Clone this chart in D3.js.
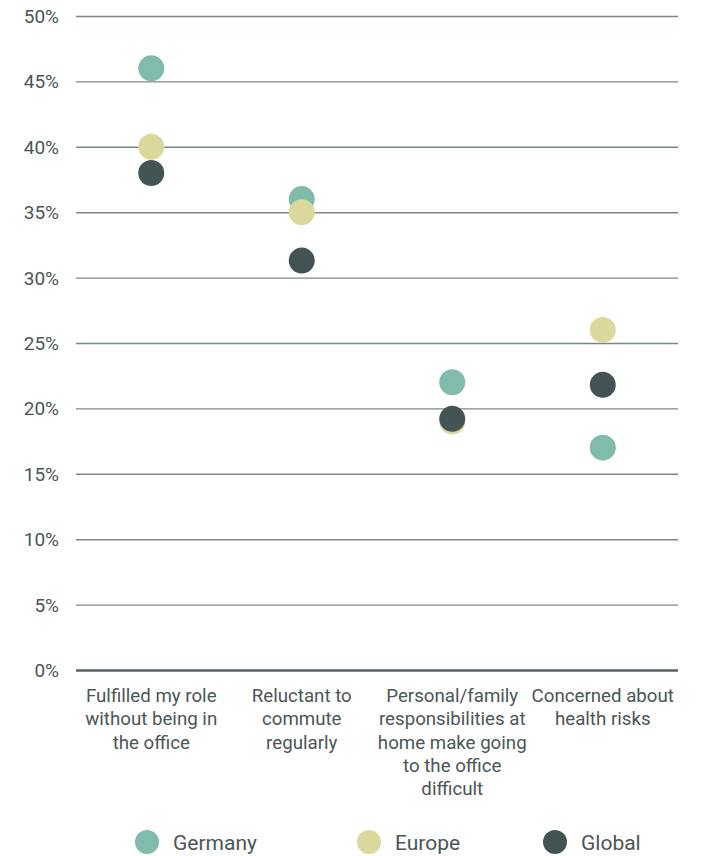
<!DOCTYPE html>
<html>
<head>
<meta charset="utf-8">
<script src="https://cdn.jsdelivr.net/npm/d3@7"></script>
<style>
  html, body { margin: 0; padding: 0; background: #ffffff; }
  svg { display: block; }
  text { font-family: Roboto, "Noto Sans", sans-serif; fill: #4b5656; }
</style>
</head>
<body>
<div id="chart"></div>
<script>
// Reasons for not returning to the office, share of respondents
const categories = [
  ["Fulfilled my role", "without being in", "the office"],
  ["Reluctant to", "commute", "regularly"],
  ["Personal/family", "responsibilities at", "home make going", "to the office", "difficult"],
  ["Concerned about", "health risks"]
];
const seriesNames = ["Germany", "Europe", "Global"];
const germany = [46, 36, 22, 17];
const europe = [40, 35, 19, 26];
const global = [38, 31.3, 19.2, 21.8];
const yTicks = [0, 5, 10, 15, 20, 25, 30, 35, 40, 45, 50];
const colors = ["#80bbac", "#dbd89c", "#445454"];

const width = 705, height = 856;
const margin = { top: 16, right: 27, bottom: 186, left: 76 };

const svg = d3.select("#chart").append("svg")
  .attr("width", width)
  .attr("height", height);

const x = d3.scaleBand()
  .domain(d3.range(categories.length))
  .range([margin.left, width - margin.right]);

const y = d3.scaleLinear()
  .domain([0, 50])
  .range([height - margin.bottom, margin.top]);

// Horizontal gridlines and percentage labels
const yAxis = d3.axisLeft(y)
  .tickValues(yTicks)
  .tickSize(-(width - margin.left - margin.right))
  .tickPadding(17)
  .tickFormat(d => d + "%");

const gy = svg.append("g")
  .attr("transform", `translate(${margin.left},0)`)
  .call(yAxis);
gy.select(".domain").remove();
gy.selectAll(".tick line")
  .attr("stroke", d => d === 0 ? "#58625f" : "#7c8787")
  .attr("stroke-width", d => d === 0 ? 2.6 : 1.4);
gy.selectAll(".tick text")
  .attr("font-size", 19)
  .attr("fill", "#4b5656")
  .attr("dy", "0.34em");

// Category labels below the baseline
const xAxis = d3.axisBottom(x).tickSize(0).tickFormat("");
const gx = svg.append("g")
  .attr("transform", `translate(0,${height - margin.bottom})`)
  .call(xAxis);
gx.select(".domain").remove();
gx.selectAll(".tick").each(function (i) {
  const t = d3.select(this).append("text")
    .attr("text-anchor", "middle")
    .attr("font-size", 18.7)
    .attr("fill", "#4b5656");
  categories[i].forEach((line, k) => {
    t.append("tspan")
      .attr("x", 0)
      .attr("y", 32 + k * 23.3)
      .text(line);
  });
});

// Dots: Germany, then Europe, then Global on top
const series = [germany, europe, global];
series.forEach((vals, s) => {
  svg.append("g")
    .selectAll("circle")
    .data(vals)
    .join("circle")
    .attr("cx", (d, i) => x(i) + x.bandwidth() / 2)
    .attr("cy", d => y(d))
    .attr("r", 13)
    .attr("fill", colors[s]);
});

// Legend
const legendX = [147, 369, 555];
const legend = svg.append("g");
seriesNames.forEach((name, s) => {
  const g = legend.append("g").attr("transform", `translate(${legendX[s]},842)`);
  g.append("circle").attr("r", 12).attr("fill", colors[s]);
  g.append("text")
    .attr("x", 26)
    .attr("dy", "0.36em")
    .attr("font-size", 21)
    .attr("fill", "#4b5656")
    .text(name);
});
</script>
</body>
</html>
